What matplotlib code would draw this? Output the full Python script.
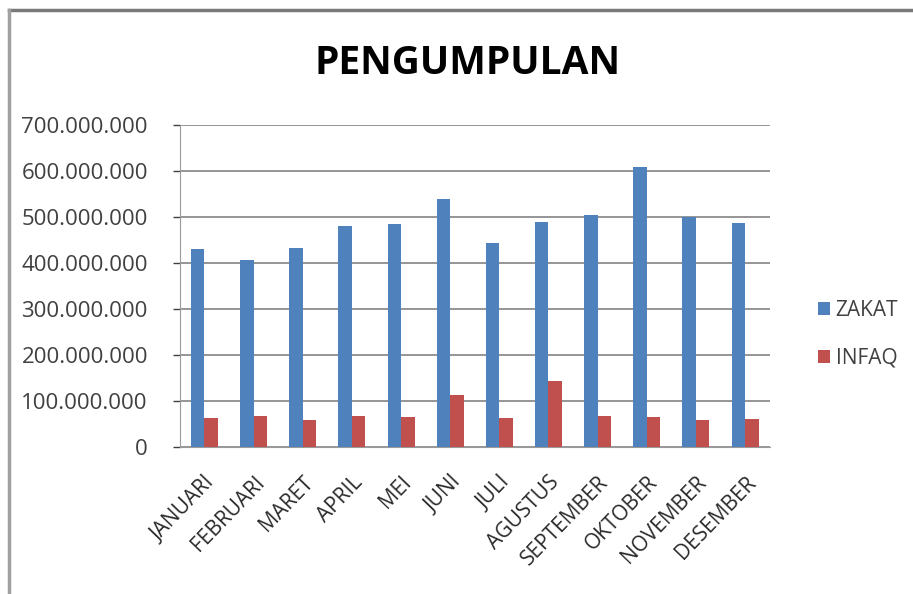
import matplotlib.pyplot as plt
import matplotlib.lines as mlines
import numpy as np
from matplotlib.ticker import FuncFormatter

bulan = ["JANUARI", "FEBRUARI", "MARET", "APRIL", "MEI", "JUNI", "JULI",
         "AGUSTUS", "SEPTEMBER", "OKTOBER", "NOVEMBER", "DESEMBER"]
zakat = [430e6, 406e6, 433e6, 481e6, 484e6, 540e6, 444e6,
         489e6, 504e6, 608e6, 500e6, 486e6]
infaq = [64e6, 68e6, 59e6, 68e6, 65e6, 114e6, 64e6,
         144e6, 68e6, 65e6, 59e6, 61e6]

plt.rcParams['font.family'] = ['Open Sans', 'DejaVu Sans']

fig = plt.figure(figsize=(9.13, 5.94), dpi=100)
ax = fig.add_axes([0.197, 0.2475, 0.646, 0.542])

x = np.arange(len(bulan))
w = 0.275
ax.bar(x - w / 2, zakat, w, color='#4F81BD', label='ZAKAT', zorder=3)
ax.bar(x + w / 2, infaq, w, color='#C0504D', label='INFAQ', zorder=3)

ax.set_xlim(-0.5, len(bulan) - 0.5)
ax.set_ylim(0, 700e6)
ax.set_yticks(np.arange(0, 700e6 + 1, 100e6))
ax.yaxis.set_major_formatter(FuncFormatter(lambda v, p: f"{int(v):,}".replace(",", ".")))
ax.grid(axis='y', color='#8c8c8c', linewidth=1.3, zorder=0)

ax.set_xticks(x)
ax.set_xticklabels(bulan, rotation=46, ha='right', rotation_mode='anchor',
                   fontsize=15, color='#2a2a2a')
ax.tick_params(axis='y', labelsize=16, colors='#404040', length=5, width=1, pad=18)
ax.tick_params(axis='x', length=0, pad=18)
for s in ['top', 'right']:
    ax.spines[s].set_visible(False)
for s in ['left', 'bottom']:
    ax.spines[s].set_color('#9a9a9a')

fig.text(0.512, 0.893, "PENGUMPULAN", ha='center', va='center',
         fontsize=28, fontweight='bold', color='black')

leg = ax.legend(loc='center left', bbox_to_anchor=(1.05, 0.35), frameon=False,
                fontsize=15, handlelength=0.6, handleheight=0.6, handletextpad=0.25,
                labelspacing=1.3, labelcolor='#404040')

# outer chart border (top and left edges visible)
fig.add_artist(mlines.Line2D([0.0099, 1.0], [0.983, 0.983], color='#7a7a7a', lw=2.5,
                             transform=fig.transFigure))
fig.add_artist(mlines.Line2D([0.0099, 0.0099], [0.0, 0.983], color='#a0a0a0', lw=2.5,
                             transform=fig.transFigure))

fig.savefig("out.png", dpi=100)
